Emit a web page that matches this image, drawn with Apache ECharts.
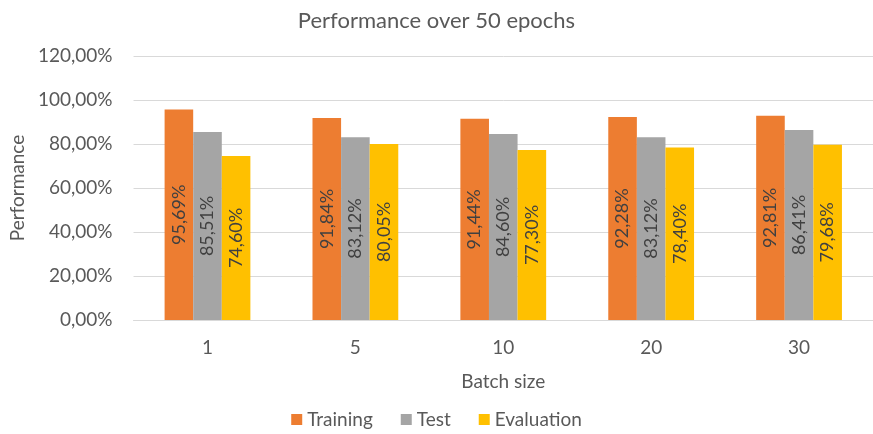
<!DOCTYPE html>
<html>
<head>
<meta charset="utf-8">
<script src="https://cdn.jsdelivr.net/npm/echarts@6/dist/echarts.min.js"></script>
<style>
  html, body { margin: 0; padding: 0; background: #fff; }
  #chart { width: 873px; height: 434px; }
</style>
</head>
<body>
<div id="chart"></div>
<script>
// Batch sizes along the x axis
const batchSizes = ['1', '5', '10', '20', '30'];
// Accuracy (%) per batch size after 50 epochs
const training = [95.69, 91.84, 91.44, 92.28, 92.81];
const test = [85.51, 83.12, 84.60, 83.12, 86.41];
const evaluation = [74.60, 80.05, 77.30, 78.40, 79.68];

const FONT = 'Lato';
const pct = v => v.toFixed(2).replace('.', ',') + '%';

function barSeries(name, data, color) {
  return {
    name: name,
    type: 'bar',
    data: data,
    barGap: '0%',
    barCategoryGap: '42%',
    itemStyle: { color: color },
    label: {
      show: true,
      position: 'inside',
      rotate: 90,
      color: '#404040',
      fontFamily: FONT,
      fontSize: 18,
      formatter: p => pct(p.value)
    }
  };
}

const chart = echarts.init(document.getElementById('chart'));
chart.setOption({
  animation: false,
  backgroundColor: '#ffffff',
  textStyle: { fontFamily: FONT },
  title: {
    text: 'Performance over 50 epochs',
    left: 'center',
    top: 5,
    textStyle: { fontFamily: FONT, fontSize: 22, fontWeight: 'normal', color: '#595959' }
  },
  grid: { left: 130, top: 56, width: 752, height: 264 },
  legend: {
    top: 405,
    left: 'center',
    itemWidth: 11,
    itemHeight: 11,
    itemGap: 28,
    icon: 'rect',
    textStyle: { fontFamily: FONT, fontSize: 19, color: '#595959' }
  },
  xAxis: {
    type: 'category',
    data: batchSizes,
    name: 'Batch size',
    nameLocation: 'middle',
    nameGap: 52,
    nameTextStyle: { fontFamily: FONT, fontSize: 19, color: '#595959' },
    axisLine: { show: true, lineStyle: { color: '#d9d9d9', width: 1 } },
    axisTick: { show: false },
    axisLabel: { fontFamily: FONT, fontSize: 19, color: '#595959', margin: 18 }
  },
  yAxis: {
    type: 'value',
    min: 0,
    max: 120,
    interval: 20,
    name: 'Performance',
    nameLocation: 'middle',
    nameGap: 104,
    nameTextStyle: { fontFamily: FONT, fontSize: 19, color: '#595959' },
    axisLine: { show: false },
    axisTick: { show: false },
    splitLine: { lineStyle: { color: '#d9d9d9', width: 1 } },
    axisLabel: { fontFamily: FONT, fontSize: 19, color: '#595959', margin: 21, formatter: v => pct(v) }
  },
  series: [
    barSeries('Training', training, '#ED7D31'),
    barSeries('Test', test, '#A5A5A5'),
    barSeries('Evaluation', evaluation, '#FFC000')
  ]
});
</script>
</body>
</html>
